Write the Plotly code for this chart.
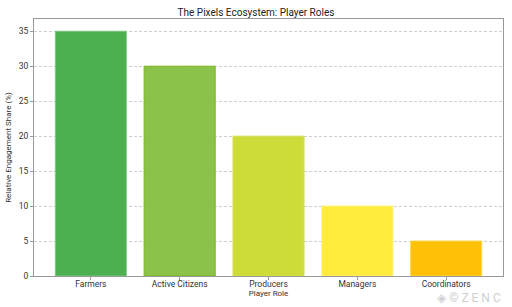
import plotly.graph_objects as go

roles = ["Farmers", "Active Citizens", "Producers", "Managers", "Coordinators"]
shares = [35, 30, 20, 10, 5]
colors = ["#4CAF50", "#8BC34A", "#CDDC39", "#FFEB3B", "#FFC107"]
edge_colors = ["#81C784", "#7CB518", "#D4E157", "#FFF176", "#FFD54F"]
y_ticks = [0, 5, 10, 15, 20, 25, 30, 35]

FONT = "Roboto, Noto Sans, sans-serif"

fig = go.Figure(go.Bar(
    x=roles, y=shares, width=0.8,
    marker=dict(color=colors, line=dict(color=edge_colors, width=1)),
))

fig.update_layout(
    width=512, height=307,
    margin=dict(l=33, r=8, t=19, b=31),
    paper_bgcolor="white", plot_bgcolor="white",
    showlegend=False,
    font=dict(family=FONT, color="#333333", size=8),
    title=dict(text="The Pixels Ecosystem: Player Roles", x=0.5, xanchor="center",
               y=1 - 12 / 307, yanchor="middle", font=dict(size=10, color="#222222")),
    xaxis=dict(
        range=[-0.64, 4.64], showline=True, linecolor="#999999", linewidth=1, mirror=True,
        ticks="outside", ticklen=3, tickcolor="#999999", showgrid=False,
        ticklabelstandoff=-3,
        tickfont=dict(size=8.5, color="#333333"),
        title=dict(text="Player Role", font=dict(size=8, color="#333333"), standoff=0),
    ),
    yaxis=dict(
        range=[0, 36.75], tickvals=y_ticks, showline=True, linecolor="#999999", linewidth=1,
        mirror=True, ticks="outside", ticklen=3, tickcolor="#999999",
        showgrid=True, gridcolor="#cfcfcf", griddash="3px,2px", gridwidth=0.8,
        zeroline=False, tickfont=dict(size=8.5, color="#333333"),
        title=dict(text="Relative Engagement Share (%)", font=dict(size=8, color="#333333"), standoff=5),
    ),
)

fig.add_annotation(text="◈ © Z E N C", xref="paper", yref="paper", x=1.0, y=-0.052,
                   xanchor="right", yanchor="top", showarrow=False,
                   font=dict(size=12, color="#d0d0d0", family=FONT))

fig.write_html("out.html")
